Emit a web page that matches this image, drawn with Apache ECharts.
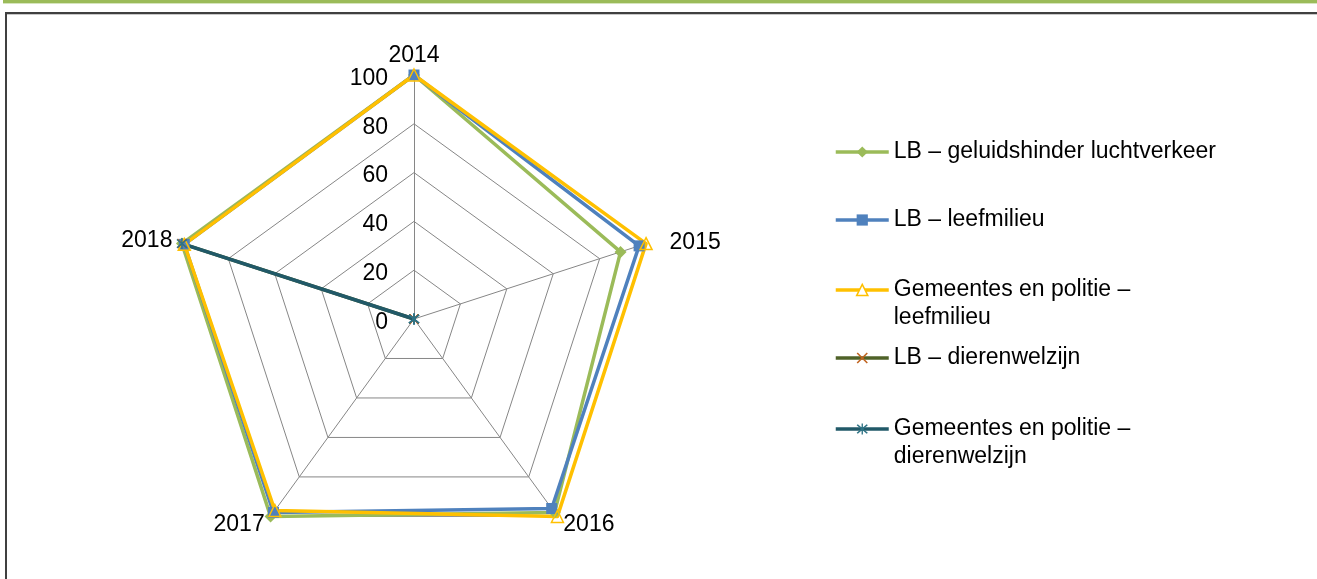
<!DOCTYPE html>
<html><head><meta charset="utf-8">
<script src="https://cdn.jsdelivr.net/npm/echarts@6/dist/echarts.min.js"></script>
<style>
html,body{margin:0;padding:0;background:#fff;width:1317px;height:579px;overflow:hidden;}
#band{position:absolute;left:3px;top:0;width:1314px;height:3px;background:#9BBB59;border-bottom:1px solid #d6e5bd;}
#frame{position:absolute;left:5px;top:12px;width:1330px;height:590px;border-top:2px solid #404040;border-left:2px solid #404040;box-shadow:inset 0 1px 0 #c8c8c8;}
#chart{position:absolute;left:0;top:0;width:1317px;height:579px;}
</style></head><body>
<div id="band"></div><div id="frame"></div><div id="chart"></div>
<script>
// ---- data ----
const years = ['2014', '2015', '2016', '2017', '2018'];
const axisMin = 0;
const axisMax = 100;
const axisStep = 20;
const seriesNames = [
  'LB – geluidshinder luchtverkeer',
  'LB – leefmilieu',
  'Gemeentes en politie – leefmilieu',
  'LB – dierenwelzijn',
  'Gemeentes en politie – dierenwelzijn'
];
const lbGeluidshinder = [100, 89, 98, 100, 100];
const lbLeefmilieu = [100, 97, 96, 98, 99];
const gpLeefmilieu = [100, 100, 100, 97, 99];
const lbDierenwelzijn = [0, 0, 0, 0, 100];
const gpDierenwelzijn = [0, 0, 0, 0, 100];
const seriesValues = [lbGeluidshinder, lbLeefmilieu, gpLeefmilieu, lbDierenwelzijn, gpDierenwelzijn];

// ECharts radar runs counter-clockwise; the reference runs clockwise from the top.
// Keep the first category at the top and reverse the rest.
const order = [0].concat(years.slice(1).map((_, k) => years.length - 1 - k));
const reorder = arr => order.map(j => arr[j]);

// ---- styles ----
const FONT = '"Liberation Sans", Arial, sans-serif';
const X_PATH = 'path://M0,1 L1,0 L5,4 L9,0 L10,1 L6,5 L10,9 L9,10 L5,6 L1,10 L0,9 L4,5 Z';
const STAR_PATH = 'path://M0,1 L1,0 L5,4 L9,0 L10,1 L6,5 L10,9 L9,10 L5,6 L1,10 L0,9 L4,5 Z M4.4,-1 L5.6,-1 L5.6,11 L4.4,11 Z';
const styles = [
  {line: '#9BBB59', symbol: 'diamond', size: 12, item: {color: '#9BBB59'}},
  {line: '#4F81BD', symbol: 'rect', size: 11, item: {color: '#4F81BD'}},
  {line: '#FFC000', symbol: 'triangle', size: 12, item: {color: 'rgba(255,255,255,0)', borderColor: '#FFC000', borderWidth: 1.5}},
  {line: '#4F6228', symbol: X_PATH, size: 10, item: {color: '#C0631F'}},
  {line: '#215968', symbol: STAR_PATH, size: 11, item: {color: '#2F7385'}}
];
const legendItemStyles = [
  {color: '#9BBB59', borderWidth: 0},
  {color: '#4F81BD', borderWidth: 0},
  {color: '#ffffff', borderColor: '#FFC000', borderWidth: 1.5},
  {color: '#C0631F', borderWidth: 0},
  {color: '#2F7385', borderWidth: 0}
];
const legendTops = [138, 206, 248, 344, 387];

function isLong(n) { return n.indexOf('Gemeentes') === 0; }
function wrapName(n) {
  // leading blank line keeps the icon level with the first text line
  return isLong(n) ? ' \n' + n.replace(' – ', ' –\n') : n;
}

const chart = echarts.init(document.getElementById('chart'), null, {renderer: 'canvas'});

const legendSeries = seriesNames.map((n, i) => ({
  type: 'line', name: n, data: [],
  symbol: styles[i].symbol, symbolSize: styles[i].size,
  lineStyle: {color: styles[i].line, width: 3.5},
  itemStyle: legendItemStyles[i]
}));

const radarSeries = seriesNames.map((n, i) => ({
  type: 'radar', name: n,
  symbol: styles[i].symbol, symbolSize: styles[i].size,
  lineStyle: {color: styles[i].line, width: 3.5},
  itemStyle: styles[i].item,
  emphasis: {disabled: true},
  data: [{name: n, value: reorder(seriesValues[i])}]
}));

const nameRich = {
  s: {fontSize: 23, fontFamily: FONT, color: '#000', padding: [4, 0, 0, 14]},
  t: {fontSize: 23, fontFamily: FONT, color: '#000', lineHeight: 14}
};

const option = {
  animation: false,
  grid: {show: false, left: 0, top: 0, width: 1, height: 1},
  xAxis: {show: false, type: 'category', data: years},
  yAxis: {show: false, type: 'value'},
  radar: {
    center: [414, 319],
    radius: 244,
    startAngle: 90,
    splitNumber: (axisMax - axisMin) / axisStep,
    shape: 'polygon',
    nameGap: 10,
    indicator: reorder(years).map((y, i) => ({
      name: y, min: axisMin, max: axisMax,
      axisLabel: {show: i === 0}
    })),
    axisName: {
      color: '#000', fontSize: 23, fontFamily: FONT,
      formatter: name => name === '2015' ? '{s|' + name + '}' : (name === '2014' ? '{t|' + name + '}' : name),
      rich: nameRich
    },
    splitLine: {lineStyle: {color: '#868686', width: 1}},
    splitArea: {show: false},
    axisLine: {lineStyle: {color: '#868686', width: 1}},
    axisTick: {show: false},
    axisLabel: {show: false, color: '#000', fontSize: 23, fontFamily: FONT, margin: 26,
      formatter: v => '{v|' + v + '}',
      rich: {v: {fontSize: 23, fontFamily: FONT, color: '#000', padding: [7, 0, 0, 0]}}}
  },
  legend: seriesNames.map((n, i) => ({
    left: 834, top: legendTops[i], orient: 'vertical', padding: 0,
    itemWidth: 53, itemHeight: 14, itemGap: 0,
    selectedMode: false,
    data: [n],
    formatter: wrapName,
    lineStyle: {color: styles[i].line, width: 3.5},
    itemStyle: legendItemStyles[i],
    textStyle: {fontSize: 23, color: '#000', fontFamily: FONT, lineHeight: 28}
  })),
  series: legendSeries.concat(radarSeries)
};
chart.setOption(option);
</script>
</body></html>
